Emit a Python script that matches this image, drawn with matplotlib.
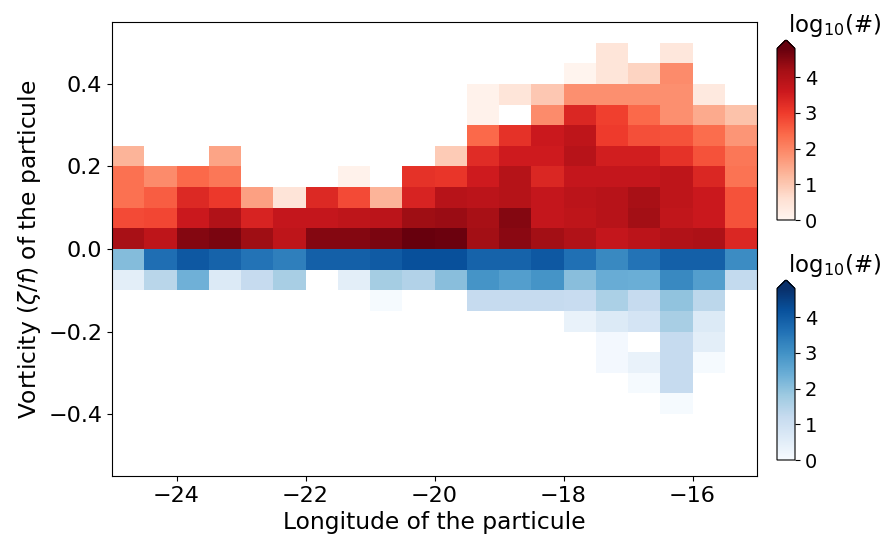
import numpy as np
import matplotlib
matplotlib.use("Agg")
import matplotlib.pyplot as plt

n = np.nan

# bin edges of the 2D histogram
lon_edges = np.arange(-25.0, -14.99, 0.5)
pos_edges = np.arange(0.0, 0.501, 0.05)
neg_edges = np.arange(0.0, -0.401, -0.05)

# log10(count) for positive vorticity, rows from 0 upward, columns -25 -> -15
pos_rows = [
    [4.15, 3.8, 4.5, 4.6, 4.25, 3.8, 4.5, 4.5, 4.6, 4.8, 4.75, 4.2, 4.45, 4.2, 4.0, 3.7, 3.85, 4.0, 4.05, 3.35],
    [2.8, 2.85, 3.6, 4.0, 3.4, 3.7, 3.7, 3.8, 3.85, 4.25, 4.3, 4.15, 4.5, 3.7, 3.8, 3.9, 4.2, 3.75, 3.6, 2.7],
    [2.3, 2.55, 3.3, 3.05, 1.6, 0.5, 3.3, 2.8, 1.3, 3.4, 3.9, 3.85, 3.95, 3.7, 3.85, 3.9, 4.15, 3.8, 3.6, 2.7],
    [2.3, 1.9, 2.4, 2.2, n, n, n, 0.1, n, 3.15, 3.1, 3.55, 3.95, 3.35, 3.7, 3.7, 3.7, 3.8, 3.35, 2.25],
    [1.3, n, n, 1.55, n, n, n, n, n, n, 0.95, 3.25, 3.55, 3.55, 3.9, 3.5, 3.5, 3.15, 2.7, 2.2],
    [n, n, n, n, n, n, n, n, n, n, n, 2.4, 3.15, 3.6, 3.8, 3.0, 2.75, 2.7, 2.35, 1.75],
    [n, n, n, n, n, n, n, n, n, n, n, 0.1, n, 1.9, 3.35, 2.95, 2.4, 1.85, 1.45, 1.1],
    [n, n, n, n, n, n, n, n, n, n, n, 0.1, 0.45, 1.0, 1.85, 1.85, 1.85, 1.85, 0.35, n],
    [n, n, n, n, n, n, n, n, n, n, n, n, n, n, 0.05, 0.45, 0.8, 1.9, n, n],
    [n, n, n, n, n, n, n, n, n, n, n, n, n, n, n, 0.45, n, 0.4, n, n],
]

# log10(count) for negative vorticity, rows from 0 downward
neg_rows = [
    [2.1, 3.65, 4.05, 3.85, 3.55, 3.35, 3.9, 3.9, 4.0, 4.2, 4.2, 3.85, 3.85, 4.05, 3.6, 3.15, 3.55, 3.9, 3.9, 3.1],
    [0.5, 1.4, 2.35, 0.65, 1.2, 1.65, n, 0.5, 1.7, 1.5, 2.05, 2.95, 2.75, 2.95, 2.05, 2.45, 2.4, 3.15, 2.75, 1.25],
    [n, n, n, n, n, n, n, n, 0.05, n, n, 1.2, 1.2, 1.2, 1.15, 1.6, 1.2, 1.95, 1.35, n],
    [n, n, n, n, n, n, n, n, n, n, n, n, n, n, 0.35, 0.65, 0.85, 1.65, 0.65, n],
    [n, n, n, n, n, n, n, n, n, n, n, n, n, n, n, 0.1, n, 1.2, 0.5, n],
    [n, n, n, n, n, n, n, n, n, n, n, n, n, n, n, 0.1, 0.35, 1.2, 0.05, n],
    [n, n, n, n, n, n, n, n, n, n, n, n, n, n, n, n, 0.05, 1.2, n, n],
    [n, n, n, n, n, n, n, n, n, n, n, n, n, n, n, n, n, 0.05, n, n],
]

vmax = 4.8
cbar_ticks = [0, 1, 2, 3, 4]

fig = plt.figure(figsize=(8.85, 5.39), dpi=100)
ax = fig.add_axes([112 / 885, 1 - 476 / 539, 645 / 885, 454 / 539])

pos = np.ma.masked_invalid(np.array(pos_rows))
neg = np.ma.masked_invalid(np.array(neg_rows))

m_pos = ax.pcolormesh(lon_edges, pos_edges, pos, cmap="Reds", vmin=0, vmax=vmax)
m_neg = ax.pcolormesh(lon_edges, neg_edges, neg, cmap="Blues", vmin=0, vmax=vmax)

ax.set_xlim(-25, -15)
ax.set_ylim(-0.55, 0.55)
ax.set_xticks([-24, -22, -20, -18, -16])
ax.set_yticks([-0.4, -0.2, 0.0, 0.2, 0.4])
ax.tick_params(labelsize=16)
ax.set_xlabel("Longitude of the particule", fontsize=16.8)
ax.set_ylabel(r"Vorticity ($\zeta/f$) of the particule", fontsize=16.8)

# two colorbars on the right
cax1 = fig.add_axes([777 / 885, 1 - 220 / 539, 18 / 885, 180 / 539])
cax2 = fig.add_axes([777 / 885, 1 - 460 / 539, 18 / 885, 180 / 539])
for cax, mesh, ybase in [(cax1, m_pos, 32), (cax2, m_neg, 272)]:
    cb = fig.colorbar(mesh, cax=cax, extend="max", ticks=cbar_ticks)
    cb.ax.tick_params(labelsize=14)
    fig.text(788 / 885, 1 - ybase / 539, r"log$_{10}$(#)", fontsize=16.5,
             ha="left", va="baseline")

fig.savefig("out.png", dpi=100)
